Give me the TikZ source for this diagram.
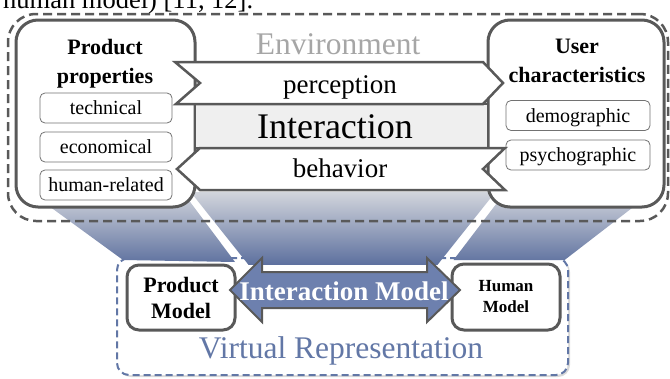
\documentclass[tikz,border=0pt]{standalone}
\usepackage{fontspec}
\setmainfont{Liberation Serif}
\usetikzlibrary{positioning,shadows}

\definecolor{frame}{HTML}{595959}
\definecolor{envgray}{HTML}{A6A6A6}
\definecolor{vrblue}{HTML}{6277A6}
\definecolor{arrowblue}{HTML}{6D80AE}
\definecolor{shadetop}{HTML}{D2D5DC}
\definecolor{shadebottom}{HTML}{5E719F}
\definecolor{bandgray}{HTML}{EFEFEF}

\tikzset{
  outerbox/.style={draw=frame, line width=3pt, rounded corners=22pt, fill=white},
  itembox/.style={draw=frame!85, line width=0.8pt, rounded corners=5pt, fill=white,
    minimum height=30pt, text height=17pt, text depth=4pt, inner ysep=2pt,
    font=\fontsize{20}{24}\selectfont},
  modelbox/.style={draw=frame, line width=3pt, rounded corners=12pt, fill=white,
    align=center, font=\bfseries},
  flowshape/.style={draw=frame, line width=2.5pt, fill=white, line join=miter},
  headline/.style={align=center, font=\bfseries\fontsize{22}{29}\selectfont},
}

\begin{document}
\begin{tikzpicture}[x=1pt, y=-1pt]
\useasboundingbox (0,0) rectangle (670,378);

% text of the page above the figure
\node[anchor=base west, inner sep=0, font=\fontsize{26.5}{30}\selectfont] (citetext) at (3,8) {human model) [11, 12].};

% virtual representation frame
\node[draw=vrblue, line width=2pt, dash pattern=on 7pt off 4pt, rounded corners=12pt, fill=white,
  drop shadow={shadow xshift=2pt, shadow yshift=-2pt, opacity=0.3},
  minimum width=451pt, minimum height=117pt] (virtual) at (342.5,316.5) {};

% projection from environment to virtual representation
\begin{scope}
\clip (40.7,200) -- (188.7,200) -- (235,262) -- (123,260) -- cycle
      (189,190) -- (497,190) -- (431,273) -- (255,273) -- cycle
      (506.8,190) -- (642.4,200) -- (564.6,260) -- (453.5,260) -- cycle;
\shade[top color=shadetop, bottom color=shadebottom] (30,192) rectangle (650,264);
\end{scope}

% environment frame
\node[draw=frame, line width=2.5pt, dash pattern=on 9pt off 5pt, rounded corners=28pt,
  minimum width=660pt, minimum height=207pt] (environment) at (338,117.5) {};

% product properties and user characteristics
\node[outerbox, minimum width=179pt, minimum height=187pt] (prodbox) at (105.5,113.5) {};
\node[outerbox, minimum width=176pt, minimum height=187pt] (userbox) at (576,113.5) {};

\node[headline] (prodtitle) at (105,63.5) {Product\\properties};
\node[headline] (usertitle) at (577,60.7) {User\\characteristics};

\node[itembox, minimum width=132pt] (technical) at (106,108) {technical};
\node[itembox, minimum width=132pt] (economical) at (106,147) {economical};
\node[itembox, minimum width=132pt] (humanrel) at (106,185) {human-related};
\node[itembox, minimum width=144pt] (demographic) at (578,115.5) {demographic};
\node[itembox, minimum width=144pt] (psychographic) at (578,155) {psychographic};

% interaction band with perception and behavior
\draw[draw=frame, line width=2.5pt, fill=bandgray] (195,104) rectangle (488,148);
\draw[flowshape] (175,62) -- (483,62) -- (503,83) -- (483,104) -- (176,104) -- (200,83) -- cycle;
\draw[flowshape] (200,148) -- (505,148) -- (483,169) -- (505,190) -- (200,190) -- (177,169) -- cycle;

\node[anchor=base, text=envgray, font=\fontsize{31.5}{36}\selectfont] (envlabel) at (338,54) {Environment};
\node[anchor=base, font=\fontsize{27}{31}\selectfont] (perception) at (340,93) {perception};
\node[anchor=base, font=\fontsize{36}{40}\selectfont] (interaction) at (335,138) {Interaction};
\node[anchor=base, font=\fontsize{27}{31}\selectfont] (behavior) at (340,177) {behavior};

% models
\node[modelbox, minimum width=108pt, minimum height=65pt, font=\bfseries\fontsize{22}{26}\selectfont]
  (prodmodel) at (181,297.5) {Product\\Model};
\node[modelbox, minimum width=108pt, minimum height=66pt, font=\bfseries\fontsize{17}{21}\selectfont]
  (humanmodel) at (506,297) {Human\\Model};

\draw[draw=frame, line width=2pt, fill=arrowblue, line join=miter]
  (230,290) -- (262,258) -- (262,272) -- (427,272) -- (427,258) -- (460,290)
  -- (427,322) -- (427,308) -- (262,308) -- (262,322) -- cycle;
\node[anchor=base, text=white, font=\bfseries\fontsize{27}{31}\selectfont] (intermodel) at (344,300) {Interaction Model};

\node[anchor=base, text=vrblue, font=\fontsize{31.5}{36}\selectfont] (vrlabel) at (341,358) {Virtual Representation};
\end{tikzpicture}
\end{document}
